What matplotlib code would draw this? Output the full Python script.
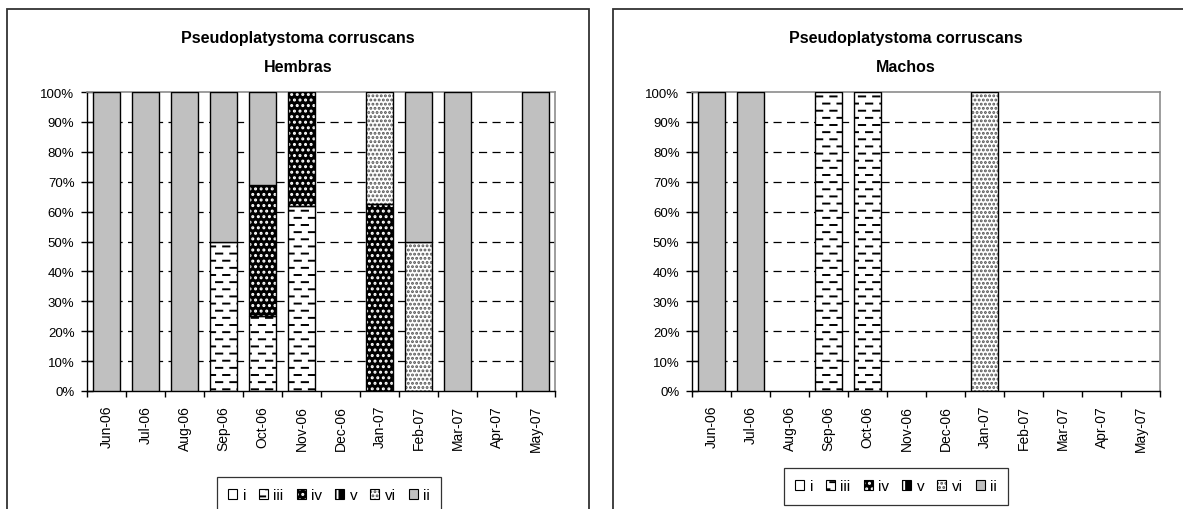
"""Pseudoplatystoma corruscans - monthly maturity stage proportions (Hembras / Machos)."""
import numpy as np
import matplotlib
matplotlib.use("Agg")
import matplotlib.pyplot as plt
from matplotlib import hatch as mhatch
from matplotlib.path import Path
from matplotlib.patches import Patch, Rectangle
from matplotlib.legend_handler import HandlerTuple
from matplotlib.ticker import FixedLocator, PercentFormatter

months = ["Jun-06", "Jul-06", "Aug-06", "Sep-06", "Oct-06", "Nov-06",
          "Dec-06", "Jan-07", "Feb-07", "Mar-07", "Apr-07", "May-07"]
stages = ["i", "iii", "iv", "v", "vi", "ii"]

# hembras (%)
hem_i = [0, 0, 0, 0, 0, 0, 0, 0, 0, 0, 0, 0]
hem_iii = [0, 0, 0, 50, 25, 62, 0, 0, 0, 0, 0, 0]
hem_iv = [0, 0, 0, 0, 44, 38, 0, 62.5, 0, 0, 0, 0]
hem_v = [0, 0, 0, 0, 0, 0, 0, 0, 0, 0, 0, 0]
hem_vi = [0, 0, 0, 0, 0, 0, 0, 37.5, 50, 0, 0, 0]
hem_ii = [100, 100, 100, 50, 31, 0, 0, 0, 50, 100, 0, 100]

# machos (%)
mac_i = [0, 0, 0, 0, 0, 0, 0, 0, 0, 0, 0, 0]
mac_iii = [0, 0, 0, 100, 100, 0, 0, 0, 0, 0, 0, 0]
mac_iv = [0, 0, 0, 0, 0, 0, 0, 0, 0, 0, 0, 0]
mac_v = [0, 0, 0, 0, 0, 0, 0, 0, 0, 0, 0, 0]
mac_vi = [0, 0, 0, 0, 0, 0, 0, 100, 0, 0, 0, 0]
mac_ii = [100, 100, 0, 0, 0, 0, 0, 0, 0, 0, 0, 0]

grid_levels = [10, 20, 30, 40, 50, 60, 70, 80, 90]


# Excel-like staggered dash pattern, used in place of the plain '-' hatch
class DashHatch(mhatch.HatchPatternBase):
    def __init__(self, hatch, density):
        k = int(hatch.count('-') * density * 7 // 6)
        self.cols = k
        self.rows = 2 * k
        self.num_vertices = self.cols * self.rows * 4

    def set_vertices_and_codes(self, vertices, codes):
        segs = []
        step = 1.0 / self.cols
        for r in range(self.rows):
            y = (r + 0.5) / self.rows
            off = 0.0 if r % 2 == 0 else step / 2
            for c in range(self.cols):
                x0 = c * step + off + step * 0.12
                x1 = x0 + step * 0.44
                if x1 > 1.0:
                    segs.append((x0, 1.0, y))
                    segs.append((0.0, x1 - 1.0, y))
                else:
                    segs.append((x0, x1, y))
        while len(segs) < self.num_vertices // 2:
            segs.append((0.0, 0.0, 0.0))
        for i, (a, b, y) in enumerate(segs[: self.num_vertices // 2]):
            vertices[2 * i] = (a, y)
            vertices[2 * i + 1] = (b, y)
            codes[2 * i] = Path.MOVETO
            codes[2 * i + 1] = Path.LINETO


mhatch._hatch_types[mhatch._hatch_types.index(mhatch.HorizontalHatch)] = DashHatch

plt.rcParams["font.family"] = ["Liberation Sans", "DejaVu Sans"]
plt.rcParams["hatch.linewidth"] = 1.4

styles = {
    "i": dict(facecolor="white", hatchcolor=None, hatch=None),
    "iii": dict(facecolor="white", hatchcolor="black", hatch="-"),
    "iv": dict(facecolor="black", hatchcolor="white", hatch="..."),
    "v": dict(facecolor="black", hatchcolor="white", hatch="++"),
    "vi": dict(facecolor="white", hatchcolor="#555555", hatch="...."),
    "ii": dict(facecolor="#c0c0c0", hatchcolor=None, hatch=None),
}

W, H = 1183, 510
fig = plt.figure(figsize=(W / 100, H / 100), dpi=100)


def fx(px):
    return px / W


def fy(px):
    return 1 - px / H


def legend_handle(name):
    st = styles[name]
    outline = Patch(facecolor=st["facecolor"] if not st["hatch"] else "none",
                    edgecolor="black", linewidth=0.8)
    if not st["hatch"]:
        return outline
    fill = Patch(facecolor=st["facecolor"], edgecolor=st["hatchcolor"],
                 hatch=st["hatch"], linewidth=0)
    return (fill, outline)


def draw_panel(x0, x1, series, leg_center, leg_top):
    ax = fig.add_axes([fx(x0), fy(392), fx(x1 - x0), fy(93) - fy(392)])
    pos = np.arange(len(months))
    bottom = np.zeros(len(months))
    for name, vals in zip(stages, series):
        vals = np.asarray(vals, dtype=float)
        st = styles[name]
        idx = vals > 0
        if idx.any():
            if st["hatch"]:
                ax.bar(pos[idx], vals[idx], 0.69, bottom=bottom[idx],
                       color=st["facecolor"], edgecolor=st["hatchcolor"],
                       hatch=st["hatch"], linewidth=0, zorder=2)
            ax.bar(pos[idx], vals[idx], 0.69, bottom=bottom[idx],
                   facecolor=st["facecolor"] if not st["hatch"] else "none",
                   edgecolor="black", linewidth=1.0, zorder=3)
        bottom += vals

    ax.hlines(grid_levels, -0.5, len(months) - 0.5, colors="black",
              linestyles=(0, (6.5, 4.3)), linewidth=0.9, zorder=1)

    ax.set_xlim(-0.5, len(months) - 0.5)
    ax.set_ylim(0, 100)
    ax.yaxis.set_major_locator(FixedLocator(np.arange(0, 101, 10)))
    ax.yaxis.set_major_formatter(PercentFormatter(100, decimals=0))
    ax.set_xticks(np.arange(-0.5, len(months), 1.0))
    ax.set_xticklabels([])
    ax.set_xticks(pos, minor=True)
    ax.set_xticklabels(months, minor=True, rotation=90, fontsize=10)
    ax.tick_params(axis="x", which="major", direction="out", length=4, width=1)
    ax.tick_params(axis="x", which="minor", length=0, pad=10)
    ax.tick_params(axis="y", which="major", direction="inout", length=8,
                   width=1, labelsize=9.5, pad=5)
    for s in ("left", "bottom"):
        ax.spines[s].set_color("black")
        ax.spines[s].set_linewidth(1.0)
    for s in ("top", "right"):
        ax.spines[s].set_color("#8c8c8c")
        ax.spines[s].set_linewidth(1.2)

    handles = [legend_handle(n) for n in stages]
    leg = fig.legend(handles, stages, loc="upper center",
                     bbox_to_anchor=(fx(leg_center), fy(leg_top)), ncol=6,
                     fontsize=11, frameon=True, fancybox=False,
                     handlelength=0.6, handleheight=0.6, handletextpad=0.35,
                     columnspacing=0.85, borderpad=0.75, borderaxespad=0,
                     handler_map={tuple: HandlerTuple(ndivide=1)})
    leg.get_frame().set_edgecolor("black")
    leg.get_frame().set_linewidth(0.9)
    return ax


draw_panel(87, 555, [hem_i, hem_iii, hem_iv, hem_v, hem_vi, hem_ii], 329, 478)
draw_panel(692, 1160, [mac_i, mac_iii, mac_iv, mac_v, mac_vi, mac_ii], 896, 469)

# titles
for cx, sub in ((298, "Hembras"), (906, "Machos")):
    fig.text(fx(cx), fy(39), "Pseudoplatystoma corruscans", ha="center",
             va="center", fontsize=11.5, fontweight="bold")
    fig.text(fx(cx), fy(67), sub, ha="center", va="center",
             fontsize=11.5, fontweight="bold")

# chart-area borders
fig.add_artist(Rectangle((fx(7), fy(560)), fx(589 - 7), fy(10) - fy(560),
                         transform=fig.transFigure, fill=False,
                         edgecolor="#333333", linewidth=1.3))
fig.add_artist(Rectangle((fx(613), fy(560)), fx(1260 - 613), fy(10) - fy(560),
                         transform=fig.transFigure, fill=False,
                         edgecolor="#333333", linewidth=1.3))

fig.savefig("out.png", dpi=100)
